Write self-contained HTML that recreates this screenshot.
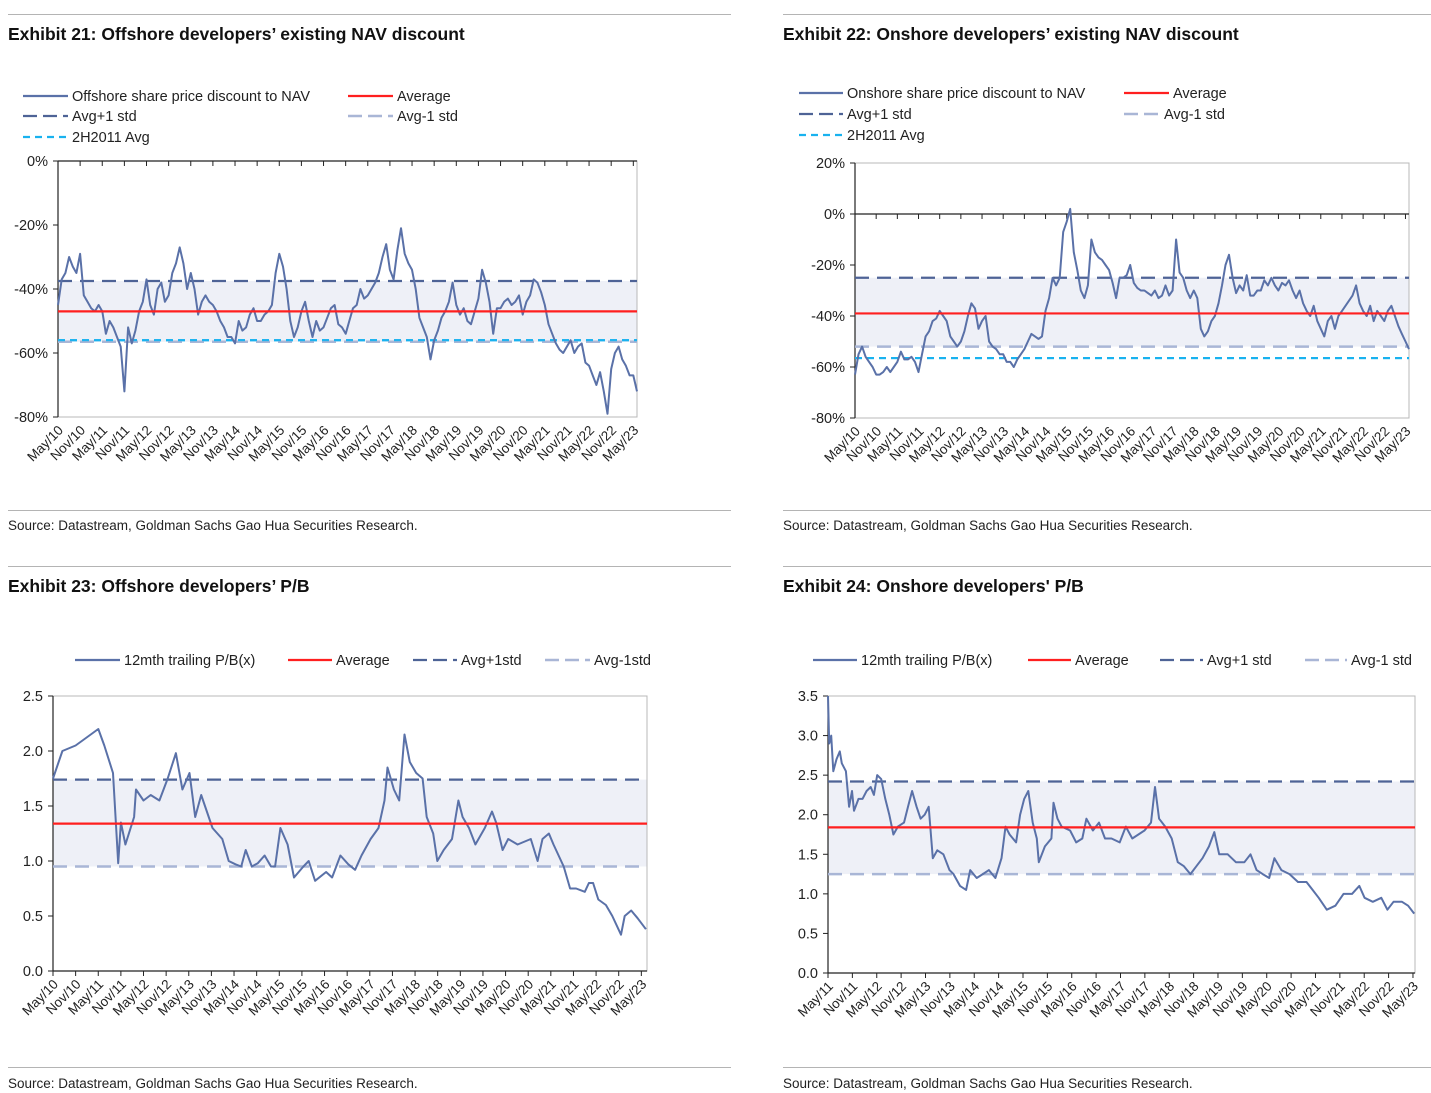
<!DOCTYPE html>
<html><head><meta charset="utf-8">
<style>
html,body{margin:0;padding:0;background:#fff;}
svg{display:block;font-family:"Liberation Sans",Arial,sans-serif;}
</style></head>
<body>
<svg id="page" width="1431" height="1093" viewBox="0 0 1431 1093" xmlns="http://www.w3.org/2000/svg">
  <g stroke="#b4b4b4" stroke-width="1">
    <line x1="8" y1="14.5" x2="731" y2="14.5"/><line x1="783" y1="14.5" x2="1431" y2="14.5"/>
    <line x1="8" y1="510.5" x2="731" y2="510.5"/><line x1="783" y1="510.5" x2="1431" y2="510.5"/>
    <line x1="8" y1="566.5" x2="731" y2="566.5"/><line x1="783" y1="566.5" x2="1431" y2="566.5"/>
    <line x1="8" y1="1067.5" x2="731" y2="1067.5"/><line x1="783" y1="1067.5" x2="1431" y2="1067.5"/>
  </g>
  <text x="8" y="40" font-size="17.5" font-weight="bold" fill="#111">Exhibit 21:  Offshore developers’ existing NAV discount</text>
  <text x="783" y="40" font-size="17.5" font-weight="bold" fill="#111">Exhibit 22:   Onshore developers’ existing NAV discount</text>
  <text x="8" y="592" font-size="17.5" font-weight="bold" fill="#111">Exhibit 23:  Offshore developers’ P/B</text>
  <text x="783" y="592" font-size="17.5" font-weight="bold" fill="#111">Exhibit 24:   Onshore developers' P/B</text>
  <text x="8" y="530" font-size="13.5" fill="#222">Source: Datastream, Goldman Sachs Gao Hua Securities Research.</text>
  <text x="783" y="530" font-size="13.5" fill="#222">Source: Datastream, Goldman Sachs Gao Hua Securities Research.</text>
  <text x="8" y="1088" font-size="13.5" fill="#222">Source: Datastream, Goldman Sachs Gao Hua Securities Research.</text>
  <text x="783" y="1088" font-size="13.5" fill="#222">Source: Datastream, Goldman Sachs Gao Hua Securities Research.</text>
</svg>
<script>
// ---------- DATA ----------
const ticks10 = ["May/10","Nov/10","May/11","Nov/11","May/12","Nov/12","May/13","Nov/13","May/14","Nov/14","May/15","Nov/15","May/16","Nov/16","May/17","Nov/17","May/18","Nov/18","May/19","Nov/19","May/20","Nov/20","May/21","Nov/21","May/22","Nov/22","May/23"];
const ticks11 = ["May/11","Nov/11","May/12","Nov/12","May/13","Nov/13","May/14","Nov/14","May/15","Nov/15","May/16","Nov/16","May/17","Nov/17","May/18","Nov/18","May/19","Nov/19","May/20","Nov/20","May/21","Nov/21","May/22","Nov/22","May/23"];

// Exhibit 21: monthly values from May/10
const offNav = [-45,-37,-35,-30,-33,-35,-29,-42,-44,-46,-47,-45,
 -47,-54,-50,-52,-55,-58,-72,-52,-57,-53,-47,-44,
 -37,-45,-48,-40,-38,-44,-42,-35,-32,-27,-32,-40,
 -35,-40,-48,-44,-42,-44,-45,-47,-50,-52,-55,-55,
 -57,-50,-53,-52,-48,-46,-50,-50,-48,-47,-45,-35,
 -29,-33,-40,-50,-55,-52,-47,-44,-50,-55,-50,-53,
 -52,-49,-46,-45,-51,-52,-54,-50,-46,-45,-40,-43,
 -42,-40,-38,-35,-30,-26,-34,-37,-28,-21,-29,-32,
 -34,-40,-49,-52,-55,-62,-56,-53,-49,-47,-44,-38,
 -45,-48,-46,-50,-51,-47,-43,-34,-38,-44,-54,-46,
 -46,-44,-43,-45,-44,-42,-48,-44,-42,-37,-38,-41,
 -45,-51,-54,-57,-59,-60,-58,-56,-60,-58,-57,-63,
 -64,-67,-70,-66,-72,-79,-65,-60,-58,-62,-64,-67,
 -67,-72];
const offNavRefs = [-47, -37.5, -56.5, -56]; // average, +1std, -1std, 2H2011 avg

// Exhibit 22: monthly values from May/10
const onNav = [-63,-55,-52,-56,-58,-60,-63,-63,-62,-60,-62,-60,
 -58,-54,-57,-57,-56,-58,-62,-55,-48,-46,-42,-41,
 -38,-40,-42,-48,-50,-52,-50,-46,-40,-35,-37,-45,
 -42,-40,-50,-52,-53,-55,-55,-58,-58,-60,-57,-55,
 -53,-50,-47,-48,-49,-48,-38,-33,-25,-28,-25,-7,
 -3,2,-15,-22,-30,-33,-28,-10,-15,-17,-18,-20,
 -22,-27,-33,-25,-25,-24,-20,-27,-29,-30,-30,-31,
 -32,-30,-33,-32,-28,-32,-30,-10,-23,-25,-30,-33,
 -30,-33,-45,-48,-46,-42,-40,-35,-28,-20,-16,-25,
 -31,-28,-30,-24,-32,-32,-30,-30,-26,-28,-25,-28,
 -30,-27,-28,-26,-30,-33,-30,-35,-38,-40,-36,-42,
 -45,-48,-42,-40,-45,-40,-38,-36,-34,-32,-28,-35,
 -38,-40,-36,-42,-38,-40,-42,-38,-36,-40,-44,-47,
 -50,-53];
const onNavRefs = [-39, -25, -52, -56.5];

// Exhibit 23: months since May/10 and P/B
const offPbMonths = [0,2.5,6,8,12,13.6,15.9,17.3,18,19.2,21.5,22,24,25.9,28.2,30.4,32.6,34.3,36.2,37.7,39.3,42.3,44.9,46.6,48.4,49.9,51.1,52.7,54.3,56.1,57.8,58.9,60.3,62.2,63.9,66.4,67.8,69.5,72.4,74,76.2,78.3,80.1,81.8,84.2,86.3,87.9,88.7,90.4,91.8,93.2,94.6,96.3,98,99.1,100.8,101.9,103.6,105.8,107.5,108.6,110.3,112,114.5,116.4,117.5,119.2,120.7,123.2,126.7,128.5,129.8,131.5,132.7,135.4,137.1,138.7,141,142.1,143.2,144.6,146.6,148.3,150.6,151.6,153.3,155,157.2];
const offPb = [1.75,2.0,2.05,2.1,2.2,2.05,1.8,0.98,1.35,1.15,1.4,1.65,1.55,1.6,1.55,1.75,1.98,1.65,1.8,1.4,1.6,1.3,1.2,1.0,0.97,0.95,1.1,0.95,0.98,1.05,0.95,0.95,1.3,1.15,0.85,0.95,1.0,0.82,0.9,0.85,1.05,0.97,0.92,1.05,1.2,1.3,1.55,1.85,1.65,1.55,2.15,1.9,1.8,1.75,1.4,1.25,1.0,1.1,1.2,1.55,1.4,1.3,1.15,1.3,1.45,1.35,1.1,1.2,1.15,1.2,1.0,1.2,1.25,1.15,0.95,0.75,0.75,0.72,0.8,0.8,0.65,0.6,0.5,0.33,0.5,0.55,0.48,0.38];
const offPbRefs = [1.34, 1.74, 0.95];

// Exhibit 24: months since May/11 and P/B
const onPbMonths = [0,0.3,0.8,1.3,2.1,2.9,3.4,4.4,5.2,5.9,6.4,7.5,8.5,9.5,10.5,11.3,12.1,13.1,14.1,15.1,16.1,17.2,18.7,19.7,20.7,21.8,22.8,23.8,24.8,25.8,26.9,28.4,29.9,30.9,32.5,34,35,36.6,38.1,39.6,41.2,42.7,43.7,44.7,46.3,47.3,48.3,49.3,50.4,51.4,51.9,53.4,55,55.5,56.5,57.5,59.6,61.1,62.6,63.6,65.2,66.7,68.2,69.8,71.8,73.3,74.9,76.4,77.9,79.5,80.5,81.5,83,84.6,86.1,87.6,89.2,90.7,92.2,93.8,95.1,96.3,98.4,100.4,102.5,104,105.5,107,108.6,109.9,111.6,113.6,115.7,117.8,119.3,120.8,122.8,124.9,126.9,129,130.8,132.1,134.1,136.2,137.7,139.2,141.3,142.8,144.3];
const onPb = [3.5,2.9,3.0,2.55,2.7,2.8,2.65,2.55,2.1,2.3,2.05,2.2,2.2,2.3,2.35,2.25,2.5,2.45,2.2,2.0,1.75,1.85,1.9,2.1,2.3,2.1,1.95,2.0,2.1,1.45,1.55,1.5,1.3,1.25,1.1,1.05,1.3,1.2,1.25,1.3,1.2,1.45,1.85,1.75,1.65,2.0,2.2,2.3,1.9,1.7,1.4,1.6,1.7,2.15,1.95,1.85,1.8,1.65,1.7,1.95,1.8,1.9,1.7,1.7,1.65,1.85,1.7,1.75,1.8,1.9,2.35,1.95,1.85,1.7,1.4,1.35,1.25,1.35,1.45,1.6,1.78,1.5,1.5,1.4,1.4,1.5,1.3,1.25,1.2,1.45,1.3,1.25,1.15,1.15,1.05,0.95,0.8,0.85,1.0,1.0,1.1,0.95,0.9,0.95,0.8,0.9,0.9,0.85,0.75];
const onPbRefs = [1.84, 2.42, 1.25];

const navTicks = [0,-20,-40,-60,-80];
const navTicks2 = [20,0,-20,-40,-60,-80];
const pbTicks25 = [2.5,2.0,1.5,1.0,0.5,0.0];
const pbTicks35 = [3.5,3.0,2.5,2.0,1.5,1.0,0.5,0.0];

// ---------- RENDER ----------
const NS = "http://www.w3.org/2000/svg";
const svg = document.getElementById("page");
const SERIES = "#5a71a8", UP = "#4e6396", LO = "#a9b6d6", RED = "#ff1f1f", CYAN = "#19b2ef", SHADE = "#eef0f7";
function el(tag, attrs, parent) {
  const e = document.createElementNS(NS, tag);
  for (const k in attrs) e.setAttribute(k, attrs[k]);
  (parent || svg).appendChild(e);
  return e;
}

function chart(c, xs, ys, refs, yTicks, yFmt, xLabels, xStartOffset, legend) {
  const g = el("g", {});
  
  
  const xS = m => c.x0 + (m - c.dmin) / (c.dmax - c.dmin) * (c.x1 - c.x0);
  const yS = v => c.yTop + (c.vmax - v) / (c.vmax - c.vmin) * (c.yBot - c.yTop);
  // shade band
  const band = el("rect", {x: c.x0, y: yS(refs[1]), width: c.x1 - c.x0, height: yS(refs[2]) - yS(refs[1]), fill: SHADE}, g);
  
  
  // frame
  const fr = el("rect", {x: c.x0, y: c.yTop, width: c.x1 - c.x0, height: c.yBot - c.yTop, fill: "none", stroke: "#b8b8b8", "stroke-width": 1}, g);
  
  
  // y axis
  const ya = el("line", {x1: c.x0, y1: c.yTop, x2: c.x0, y2: c.yBot, stroke: "#222", "stroke-width": 1.2}, g);
  
  
  yTicks.forEach(v => {
    const t = el("line", {x1: c.x0 - 5, y1: yS(v), x2: c.x0, y2: yS(v), stroke: "#222"}, g);
    
    
    const tx = el("text", {x: c.x0 - 10, y: yS(v) + 5, "text-anchor": "end", "font-size": 14.5, fill: "#222"}, g);
    tx.textContent = yFmt(v);
    
    
  });
  // x axis
  const axY = yS(c.axisVal);
  const xa = el("line", {x1: c.x0, y1: axY, x2: c.x1, y2: axY, stroke: "#222", "stroke-width": 1.2}, g);
  
  
  xLabels.forEach((lab, i) => {
    const m = xStartOffset + i * 6;
    const x = xS(m);
    const t = el("line", {x1: x, y1: axY, x2: x, y2: axY + 5, stroke: "#222"}, g);
    
    
    const lx = x + 6, ly = c.yBot + 14;
    const tx = el("text", {x: lx, y: ly, "text-anchor": "end", "font-size": 13.5, fill: "#222", transform: `rotate(-45 ${lx} ${ly})`}, g);
    tx.textContent = lab;
    
    
  });
  // reference lines
  if (refs.length > 3) {
    const r3 = el("line", {x1: c.x0, y1: yS(refs[3]), x2: c.x1, y2: yS(refs[3]), stroke: CYAN, "stroke-width": 2.2, "stroke-dasharray": "7 5"}, g);
    
    
  }
  const r2 = el("line", {x1: c.x0, y1: yS(refs[2]), x2: c.x1, y2: yS(refs[2]), stroke: LO, "stroke-width": 2.5, "stroke-dasharray": "14 8"}, g);
  
  
  if (refs.length > 3) {
    const r3b = el("line", {x1: c.x0, y1: yS(refs[3]), x2: c.x1, y2: yS(refs[3]), stroke: CYAN, "stroke-width": 2.2, "stroke-dasharray": "7 5", opacity: 0.9}, g);
    
    
  }
  const r1 = el("line", {x1: c.x0, y1: yS(refs[1]), x2: c.x1, y2: yS(refs[1]), stroke: UP, "stroke-width": 2.2, "stroke-dasharray": "14 8"}, g);
  
  
  // series
  let d = "";
  ys.forEach((v, i) => { d += (i ? "L" : "M") + xS(xs[i]).toFixed(1) + " " + yS(v).toFixed(1); });
  const p = el("path", {d: d, fill: "none", stroke: SERIES, "stroke-width": 2, "stroke-linejoin": "round"}, g);
  
  
  const r0 = el("line", {x1: c.x0, y1: yS(refs[0]), x2: c.x1, y2: yS(refs[0]), stroke: RED, "stroke-width": 2.2}, g);
  
  
  // legend
  legend.forEach(L => {
    const s = L.kind;
    const attrs = {x1: L.x, y1: L.y, x2: L.x + L.w, y2: L.y, "stroke-width": 2.2};
    if (s === "series") { attrs.stroke = SERIES; }
    if (s === "avg") { attrs.stroke = RED; }
    if (s === "up") { attrs.stroke = UP; attrs["stroke-dasharray"] = "14 6"; }
    if (s === "lo") { attrs.stroke = LO; attrs["stroke-dasharray"] = "14 6"; attrs["stroke-width"] = 2.6; }
    if (s === "cyan") { attrs.stroke = CYAN; attrs["stroke-dasharray"] = "7 5"; }
    const ln = el("line", attrs, g);
    
    
    const t = el("text", {x: L.x + L.w + 4, y: L.y + 5, "font-size": 14.5, fill: "#222"}, g);
    t.textContent = L.text;
    
    
  });
}

const idx1 = offNav.map((v, i) => i);
const idx2 = onNav.map((v, i) => i);
const pct = v => v + "%";
const dec = v => v.toFixed(1);

chart({name: "chart-offshore-nav", x0: 58, x1: 637, yTop: 161, yBot: 417, vmax: 0, vmin: -80, dmin: 0, dmax: 157, axisVal: 0},
  idx1, offNav, offNavRefs, navTicks, pct, ticks10, 0,
  [{x: 23, y: 96, w: 45, kind: "series", text: "Offshore share price discount to NAV"},
   {x: 348, y: 96, w: 45, kind: "avg", text: "Average"},
   {x: 23, y: 116, w: 45, kind: "up", text: "Avg+1 std"},
   {x: 348, y: 116, w: 45, kind: "lo", text: "Avg-1 std"},
   {x: 23, y: 137, w: 45, kind: "cyan", text: "2H2011 Avg"}]);

chart({name: "chart-onshore-nav", x0: 855, x1: 1409, yTop: 163, yBot: 418, vmax: 20, vmin: -80, dmin: 0, dmax: 157, axisVal: 0},
  idx2, onNav, onNavRefs, navTicks2, pct, ticks10, 0,
  [{x: 799, y: 93, w: 44, kind: "series", text: "Onshore share price discount to NAV"},
   {x: 1124, y: 93, w: 45, kind: "avg", text: "Average"},
   {x: 799, y: 114, w: 44, kind: "up", text: "Avg+1 std"},
   {x: 1124, y: 114, w: 36, kind: "lo", text: "   Avg-1 std"},
   {x: 799, y: 135, w: 44, kind: "cyan", text: "2H2011 Avg"}]);

chart({name: "chart-offshore-pb", x0: 53, x1: 647, yTop: 696, yBot: 971, vmax: 2.5, vmin: 0, dmin: 0, dmax: 157.5, axisVal: 0},
  offPbMonths, offPb, offPbRefs, pbTicks25, dec, ticks10, 0,
  [{x: 75, y: 660, w: 45, kind: "series", text: "12mth trailing P/B(x)"},
   {x: 288, y: 660, w: 44, kind: "avg", text: "Average"},
   {x: 413, y: 660, w: 44, kind: "up", text: "Avg+1std"},
   {x: 545, y: 660, w: 45, kind: "lo", text: "Avg-1std"}]);

chart({name: "chart-onshore-pb", x0: 828, x1: 1415, yTop: 696, yBot: 973, vmax: 3.5, vmin: 0, dmin: 0, dmax: 144.5, axisVal: 0},
  onPbMonths, onPb, onPbRefs, pbTicks35, dec, ticks11, 0,
  [{x: 813, y: 660, w: 44, kind: "series", text: "12mth trailing P/B(x)"},
   {x: 1028, y: 660, w: 43, kind: "avg", text: "Average"},
   {x: 1160, y: 660, w: 43, kind: "up", text: "Avg+1 std"},
   {x: 1305, y: 660, w: 42, kind: "lo", text: "Avg-1 std"}]);
</script>
</body></html>
